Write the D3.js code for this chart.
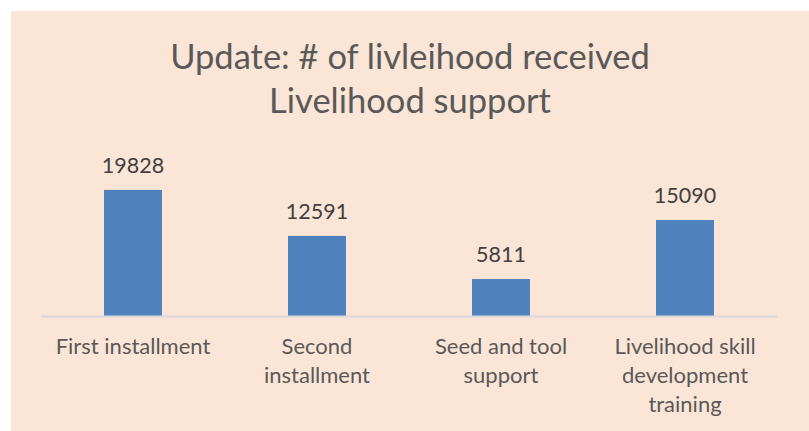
<!DOCTYPE html>
<html>
<head>
<meta charset="utf-8">
<script src="https://cdn.jsdelivr.net/npm/d3@7"></script>
<style>
  body { margin: 0; background: #fff; }
  text { font-family: Lato, "Open Sans", sans-serif; }
</style>
</head>
<body>
<div id="chart"></div>
<script>
var width = 809,
  height = 431;

// data
var titleLines = ["Update: # of livleihood received", "Livelihood support"];
var categories = ["First installment", "Second installment", "Seed and tool support", "Livelihood skill development training"];
var categoryLines = [["First installment"], ["Second", "installment"], ["Seed and tool", "support"], ["Livelihood skill", "development", "training"]];
var values = [19828, 12591, 5811, 15090];

var svg = d3.select("#chart").append("svg")
  .attr("width", width)
  .attr("height", height);

// chart area background
svg.append("rect")
  .attr("x", 11)
  .attr("y", 11)
  .attr("width", width - 11)
  .attr("height", height - 11)
  .attr("fill", "#FBE5D6");

// title
svg.append("text")
  .attr("text-anchor", "middle")
  .attr("fill", "#595959")
  .style("font-size", "34.5px")
  .selectAll("tspan")
  .data(titleLines)
  .enter().append("tspan")
  .attr("x", 410)
  .attr("y", function(d, i) { return 69 + i * 44; })
  .text(function(d) { return d; });

var x = d3.scaleBand()
  .domain(categories)
  .range([41, 777])
  .paddingInner(0.685)
  .paddingOuter(0.3425);

var y = d3.scaleLinear()
  .domain([0, 25000])
  .range([316, 157]);

// bars
svg.append("g")
  .selectAll("rect")
  .data(values)
  .enter().append("rect")
  .attr("x", function(d, i) { return x(categories[i]); })
  .attr("y", function(d) { return y(d); })
  .attr("width", x.bandwidth())
  .attr("height", function(d) { return y(0) - y(d); })
  .attr("fill", "#4F81BD");

// value labels
svg.append("g")
  .selectAll("text")
  .data(values)
  .enter().append("text")
  .attr("x", function(d, i) { return x(categories[i]) + x.bandwidth() / 2; })
  .attr("y", function(d) { return y(d) - 17; })
  .attr("text-anchor", "middle")
  .attr("fill", "#404040")
  .style("font-size", "21.5px")
  .text(function(d) { return d; });

// category axis
var xAxis = svg.append("g")
  .attr("transform", "translate(0," + y(0) + ")")
  .call(d3.axisBottom(x).tickSize(0).tickFormat(""));
xAxis.select(".domain")
  .attr("stroke", "#D9D9D9")
  .attr("stroke-width", 2);

// category labels, wrapped as in the picture
svg.append("g")
  .selectAll("text")
  .data(categories)
  .enter().append("text")
  .attr("text-anchor", "middle")
  .attr("fill", "#595959")
  .style("font-size", "22px")
  .each(function(d, i) {
    d3.select(this).selectAll("tspan")
      .data(categoryLines[i])
      .enter().append("tspan")
      .attr("x", x(d) + x.bandwidth() / 2)
      .attr("y", function(l, j) { return 354 + j * 29; })
      .text(function(l) { return l; });
  });
</script>
</body>
</html>
